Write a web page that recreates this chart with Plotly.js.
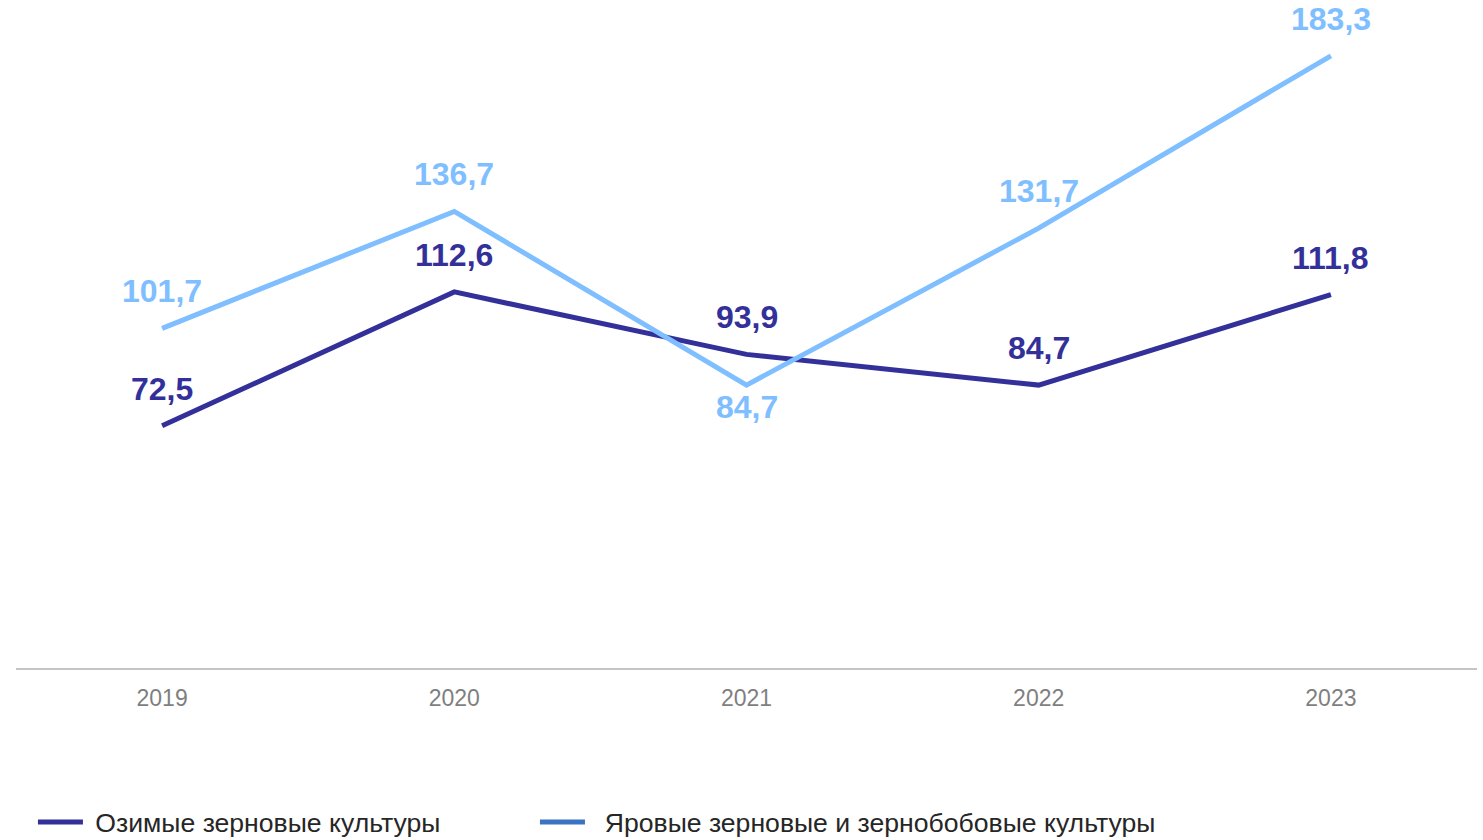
<!DOCTYPE html>
<html><head><meta charset="utf-8">
<script src="https://cdn.plot.ly/plotly-3.0.1.min.js"></script>
<style>html,body{margin:0;padding:0;background:#fff}#chart{width:1483px;height:840px}</style>
</head><body><div id="chart"></div>
<script>
const years = ['2019','2020','2021','2022','2023'];
const winter = [72.5, 112.6, 93.9, 84.7, 111.8];
const spring = [101.7, 136.7, 84.7, 131.7, 183.3];
const springLabelBelow = [false, false, true, false, false];
const names = ['Озимые зерновые культуры', 'Яровые зерновые и зернобобовые культуры'];
const lineColors = ['#33309A', '#7FBEFF'];
const legendColors = ['#33309A', '#3A72C4'];

const fmt = v => v.toFixed(1).replace('.', ',');

const traces = [
  {x: years, y: winter, type: 'scatter', mode: 'lines', line: {color: lineColors[0], width: 5}, showlegend: false, hoverinfo: 'skip'},
  {x: years, y: spring, type: 'scatter', mode: 'lines', line: {color: lineColors[1], width: 5}, showlegend: false, hoverinfo: 'skip'},
  {x: [null], y: [null], type: 'scatter', mode: 'lines', name: '\u00A0' + names[0], legend: 'legend', line: {color: legendColors[0], width: 5}},
  {x: [null], y: [null], type: 'scatter', mode: 'lines', name: '\u00A0\u00A0' + names[1], legend: 'legend2', line: {color: legendColors[1], width: 5}}
];

const annotations = [];
years.forEach((yr, i) => {
  annotations.push({xref: 'x', yref: 'y', x: i, y: winter[i], text: '<b>' + fmt(winter[i]) + '</b>', showarrow: false, yshift: 37,
    font: {family: 'Liberation Sans, Arial', size: 32, color: lineColors[0]}});
  annotations.push({xref: 'x', yref: 'y', x: i, y: spring[i], text: '<b>' + fmt(spring[i]) + '</b>', showarrow: false,
    yshift: springLabelBelow[i] ? -22 : 37,
    font: {family: 'Liberation Sans, Arial', size: 32, color: lineColors[1]}});
});

const legendCommon = {orientation: 'h', xanchor: 'left', y: -0.195, yanchor: 'top',
  font: {size: 26.6, color: '#262626'}, itemwidth: 45, bgcolor: 'rgba(0,0,0,0)'};

const layout = {
  width: 1483, height: 840,
  margin: {l: 16, r: 6, t: 0, b: 172, autoexpand: false},
  paper_bgcolor: '#fff', plot_bgcolor: '#fff',
  font: {family: 'Liberation Sans, Arial', color: '#333'},
  xaxis: {type: 'category', range: [-0.5, 4.5], showgrid: false, zeroline: false,
    showline: true, linecolor: '#C4C4C4', linewidth: 2, ticks: '', ticklabelstandoff: 8,
    tickfont: {size: 23, color: '#7F7F7F'}, fixedrange: true},
  yaxis: {range: [0, 200], showgrid: false, zeroline: false, showline: false, showticklabels: false, ticks: '', fixedrange: true},
  showlegend: true,
  legend: Object.assign({}, legendCommon, {x: 0.0116}),
  legend2: Object.assign({}, legendCommon, {x: 0.3552}),
  annotations: annotations
};
Plotly.newPlot('chart', traces, layout, {displayModeBar: false, staticPlot: true});
</script></body></html>
